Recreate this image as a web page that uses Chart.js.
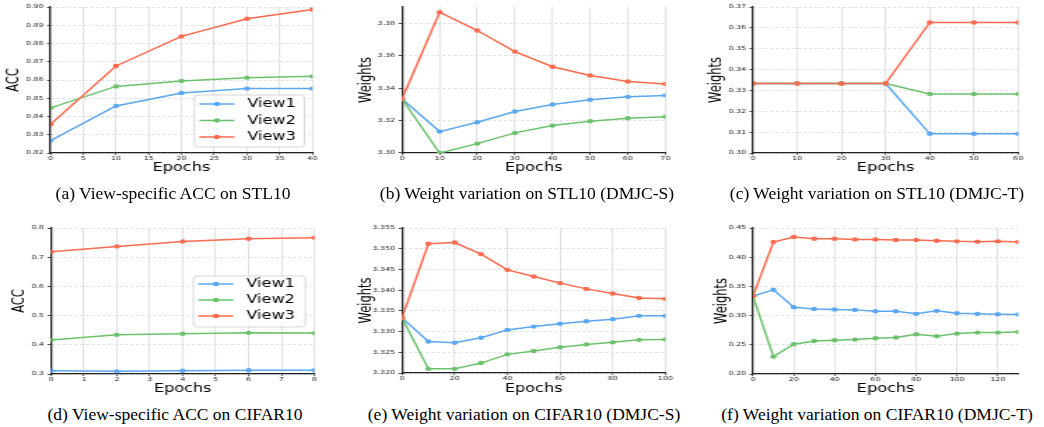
<!DOCTYPE html>
<html>
<head>
<meta charset="utf-8">
<script src="https://cdn.jsdelivr.net/npm/chart.js@4.4.0/dist/chart.umd.min.js"></script>
<style>
  html, body { margin: 0; padding: 0; background: #fff; }
  body { width: 1044px; height: 427px; position: relative; overflow: hidden; }
  .panel { position: absolute; transform-origin: 0 0; }
  .caption {
    position: absolute;
    font-family: "Liberation Serif", "Times New Roman", serif;
    font-size: 17.5px;
    color: #000;
    white-space: nowrap;
    transform: translate(-50%, -50%);
  }
</style>
</head>
<body>
<script>
// ---- data ----
const viewNames = ['View1', 'View2', 'View3'];

// (a) view-specific ACC on STL10
const stlAccEpochs = [0, 10, 20, 30, 40];
const stlAccView1 = [0.8268, 0.8458, 0.8529, 0.8553, 0.8553];
const stlAccView2 = [0.8447, 0.8565, 0.8595, 0.8613, 0.8620];
const stlAccView3 = [0.8357, 0.8677, 0.8839, 0.8936, 0.8986];

// (b) weights on STL10 (DMJC-S)
const stlSEpochs = [0, 10, 20, 30, 40, 50, 60, 70];
const stlSView1 = [3.3333, 3.3132, 3.3190, 3.3256, 3.3299, 3.3328, 3.3346, 3.3355];
const stlSView2 = [3.3333, 3.3000, 3.3058, 3.3124, 3.3169, 3.3196, 3.3214, 3.3223];
const stlSView3 = [3.3333, 3.3868, 3.3755, 3.3625, 3.3532, 3.3478, 3.3441, 3.3425];

// (c) weights on STL10 (DMJC-T)
const stlTEpochs = [0, 10, 20, 30, 40, 50, 60];
const stlTView1 = [0.3333, 0.3333, 0.3333, 0.3333, 0.3092, 0.3092, 0.3092];
const stlTView2 = [0.3333, 0.3333, 0.3333, 0.3333, 0.3283, 0.3283, 0.3283];
const stlTView3 = [0.3333, 0.3333, 0.3333, 0.3333, 0.3626, 0.3626, 0.3626];

// (d) view-specific ACC on CIFAR10
const cifarAccEpochs = [0, 2, 4, 6, 8];
const cifarAccView1 = [0.311, 0.309, 0.311, 0.3126, 0.3126];
const cifarAccView2 = [0.4167, 0.434, 0.438, 0.441, 0.440];
const cifarAccView3 = [0.719, 0.737, 0.754, 0.763, 0.767];

// (e) weights on CIFAR10 (DMJC-S)
const cifarSEpochs = [0, 10, 20, 30, 40, 50, 60, 70, 80, 90, 100];
const cifarSView1 = [3.3333, 3.3276, 3.3273, 3.3285, 3.3304, 3.3312, 3.3319, 3.3325, 3.3330, 3.3338, 3.3338];
const cifarSView2 = [3.3333, 3.3210, 3.3210, 3.3224, 3.3245, 3.3253, 3.3262, 3.3269, 3.3274, 3.3280, 3.3281];
const cifarSView3 = [3.3333, 3.3512, 3.3515, 3.3487, 3.3449, 3.3433, 3.3417, 3.3403, 3.3392, 3.3381, 3.3379];

// (f) weights on CIFAR10 (DMJC-T)
const cifarTEpochs = [0, 10, 20, 30, 40, 50, 60, 70, 80, 90, 100, 110, 120, 130];
const cifarTView1 = [0.3333, 0.3442, 0.3144, 0.3115, 0.3104, 0.3098, 0.3075, 0.3075, 0.3030, 0.3081, 0.3041, 0.3030, 0.3024, 0.3018];
const cifarTView2 = [0.3333, 0.2297, 0.2509, 0.2566, 0.2578, 0.2589, 0.2612, 0.2624, 0.2681, 0.2647, 0.2692, 0.2709, 0.2709, 0.2721];
const cifarTView3 = [0.3333, 0.4260, 0.4345, 0.4317, 0.4317, 0.4305, 0.4305, 0.4294, 0.4294, 0.4282, 0.4271, 0.4266, 0.4271, 0.4260];

const captions = [
  '(a) View-specific ACC on STL10',
  '(b) Weight variation on STL10 (DMJC-S)',
  '(c) Weight variation on STL10 (DMJC-T)',
  '(d) View-specific ACC on CIFAR10',
  '(e) Weight variation on CIFAR10 (DMJC-S)',
  '(f) Weight variation on CIFAR10 (DMJC-T)'
];

// ---- style ----
const STRETCH = 1.4;   // the original figure is squeezed wider than tall
const colors = ['#5ba7f0', '#6cc26c', '#fc6a4f'];
const titleFont = { family: 'DejaVu Sans', size: 11.5 };
const tickFont = { family: 'DejaVu Sans', size: 5.6 };

// legend box drawn inside the plot area
const boxLegend = {
  id: 'boxLegend',
  afterDatasetsDraw(chart, args, opts) {
    if (!opts.show) return;
    const ctx = chart.ctx;
    const area = chart.chartArea;
    const w = opts.width / STRETCH;
    const h = opts.height;
    const x = area.right - opts.right / STRETCH - w;
    const y = opts.top != null ? area.top + opts.top : area.bottom - opts.bottom - h;
    ctx.save();
    ctx.fillStyle = 'rgba(255,255,255,0.85)';
    ctx.strokeStyle = '#cccccc';
    ctx.lineWidth = 0.8;
    ctx.beginPath();
    ctx.roundRect(x, y, w, h, 3);
    ctx.fill();
    ctx.stroke();
    ctx.font = '11.5px "DejaVu Sans"';
    ctx.textBaseline = 'middle';
    chart.data.datasets.forEach((ds, i) => {
      const ry = y + opts.rows[i];
      const x1 = x + 5 / STRETCH, x2 = x + 40 / STRETCH;
      ctx.strokeStyle = ds.borderColor;
      ctx.lineWidth = 1.5;
      ctx.beginPath();
      ctx.moveTo(x1, ry);
      ctx.lineTo(x2, ry);
      ctx.stroke();
      ctx.fillStyle = ds.borderColor;
      ctx.beginPath();
      ctx.arc((x1 + x2) / 2, ry, 2.2, 0, Math.PI * 2);
      ctx.fill();
      ctx.fillStyle = '#000';
      ctx.fillText(ds.label, x + 53 / STRETCH, ry + 0.5);
    });
    ctx.restore();
  }
};

// keep only ticks that sit on a whole step (drops the extra bound tick)
function onStep(step) {
  return scale => {
    scale.ticks = scale.ticks.filter(t => {
      const r = t.value / step;
      return Math.abs(r - Math.round(r)) < 1e-4;
    });
  };
}

function makePanel(p) {
  const wrap = document.createElement('div');
  wrap.className = 'panel';
  const cw = Math.round(p.W / STRETCH);
  wrap.style.left = p.L + 'px';
  wrap.style.top = p.T + 'px';
  wrap.style.width = cw + 'px';
  wrap.style.height = p.H + 'px';
  wrap.style.transform = 'scaleX(' + STRETCH + ')';
  const canvas = document.createElement('canvas');
  canvas.width = cw;
  canvas.height = p.H;
  wrap.appendChild(canvas);
  document.body.appendChild(wrap);

  const lh = titleFont.size * 1.2;
  const yAxisW = (p.PL - p.L) / STRETCH;
  const xAxisH = p.T + p.H - p.PB;

  const datasets = p.series.map((vals, i) => ({
    label: viewNames[i],
    data: p.epochs.map((e, k) => ({ x: e, y: vals[k] })),
    borderColor: colors[i],
    backgroundColor: colors[i],
    borderWidth: 1.5,
    pointRadius: 2.2,
    pointBorderWidth: 0,
    tension: 0,
    order: 2 - i
  }));

  new Chart(canvas, {
    type: 'line',
    data: { datasets },
    plugins: [boxLegend],
    options: {
      responsive: false,
      animation: false,
      devicePixelRatio: 1,
      layout: {
        padding: { left: 0, top: p.PT - p.T, right: (p.L + p.W - p.PR) / STRETCH, bottom: 0 }
      },
      plugins: {
        legend: { display: false },
        tooltip: { enabled: false },
        boxLegend: p.legend || { show: false }
      },
      scales: {
        x: {
          type: 'linear',
          min: p.xMin, max: p.xMax,
          afterBuildTicks: onStep(p.xStep),
          afterFit: s => { s.height = xAxisH; },
          ticks: { stepSize: p.xStep, includeBounds: false, font: tickFont, color: '#222', padding: 0,
                   maxRotation: 0, autoSkip: false, callback: v => String(Math.round(v)) },
          grid: { color: '#e2e2e2', lineWidth: 1.1, tickLength: 2, tickColor: '#222', tickWidth: 0.8 },
          border: { display: true, color: '#222', width: 1.3 },
          title: { display: true, text: 'Epochs', font: titleFont, color: '#000',
                   padding: { top: 0, bottom: p.T + p.H - p.EY - lh / 2 } }
        },
        y: {
          min: p.yMin, max: p.yMax,
          afterBuildTicks: onStep(p.yStep),
          afterFit: s => { s.width = yAxisW; },
          ticks: { stepSize: p.yStep, includeBounds: false, font: tickFont, color: '#222', padding: 2.5,
                   autoSkip: false, callback: v => v.toFixed(p.yDec) },
          grid: { color: '#d4d4d4', lineWidth: 0.8, tickLength: 2.5, tickColor: '#222', tickWidth: 0.8 },
          border: { display: true, color: '#222', width: 1.3, dash: [2, 2] },
          title: { display: true, text: p.yTitle, font: titleFont, color: '#000',
                   padding: { top: (p.TX - p.L) / STRETCH - lh / 2, bottom: 0 } }
        }
      }
    }
  });
}

function addCaption(text, cx, cy) {
  const d = document.createElement('div');
  d.className = 'caption';
  d.textContent = text;
  d.style.left = cx + 'px';
  d.style.top = cy + 'px';
  document.body.appendChild(d);
}

// top row
makePanel({ L: 0, T: 0, W: 338, H: 185, PL: 50.5, PR: 313, PT: 7, PB: 153, TX: 14, EY: 168,
  epochs: stlAccEpochs, series: [stlAccView1, stlAccView2, stlAccView3],
  xMin: 0, xMax: 40, xStep: 5, yMin: 0.82, yMax: 0.90, yStep: 0.01, yDec: 2, yTitle: 'ACC',
  legend: { show: true, width: 110, height: 52, right: 8, bottom: 6, rows: [9, 25.5, 42] } });
makePanel({ L: 340, T: 0, W: 345, H: 185, PL: 402, PR: 666, PT: 7, PB: 153, TX: 367, EY: 168,
  epochs: stlSEpochs, series: [stlSView1, stlSView2, stlSView3],
  xMin: 0, xMax: 70, xStep: 10, yMin: 3.30, yMax: 3.39, yStep: 0.02, yDec: 2, yTitle: 'Weights' });
makePanel({ L: 690, T: 0, W: 354, H: 185, PL: 753, PR: 1018, PT: 7, PB: 153, TX: 717, EY: 168,
  epochs: stlTEpochs, series: [stlTView1, stlTView2, stlTView3],
  xMin: 0, xMax: 60, xStep: 10, yMin: 0.30, yMax: 0.37, yStep: 0.01, yDec: 2, yTitle: 'Weights' });

// bottom row
makePanel({ L: 0, T: 215, W: 338, H: 185, PL: 51, PR: 315, PT: 228, PB: 374, TX: 20, EY: 389,
  epochs: cifarAccEpochs, series: [cifarAccView1, cifarAccView2, cifarAccView3],
  xMin: 0, xMax: 8, xStep: 1, yMin: 0.3, yMax: 0.8, yStep: 0.1, yDec: 1, yTitle: 'ACC',
  legend: { show: true, width: 112, height: 51, right: 9, top: 48, rows: [8, 24, 40] } });
makePanel({ L: 340, T: 215, W: 345, H: 185, PL: 402, PR: 666, PT: 228, PB: 373, TX: 367, EY: 389,
  epochs: cifarSEpochs, series: [cifarSView1, cifarSView2, cifarSView3],
  xMin: 0, xMax: 100, xStep: 20, yMin: 3.320, yMax: 3.355, yStep: 0.005, yDec: 3, yTitle: 'Weights' });
makePanel({ L: 690, T: 215, W: 354, H: 185, PL: 753, PR: 1018, PT: 228, PB: 374, TX: 722, EY: 389,
  epochs: cifarTEpochs, series: [cifarTView1, cifarTView2, cifarTView3],
  xMin: 0, xMax: 130, xStep: 20, yMin: 0.20, yMax: 0.45, yStep: 0.05, yDec: 2, yTitle: 'Weights' });

addCaption(captions[0], 173, 193);
addCaption(captions[1], 527, 193);
addCaption(captions[2], 877, 193);
addCaption(captions[3], 175, 414);
addCaption(captions[4], 524, 414);
addCaption(captions[5], 877, 414);
</script>
</body>
</html>
